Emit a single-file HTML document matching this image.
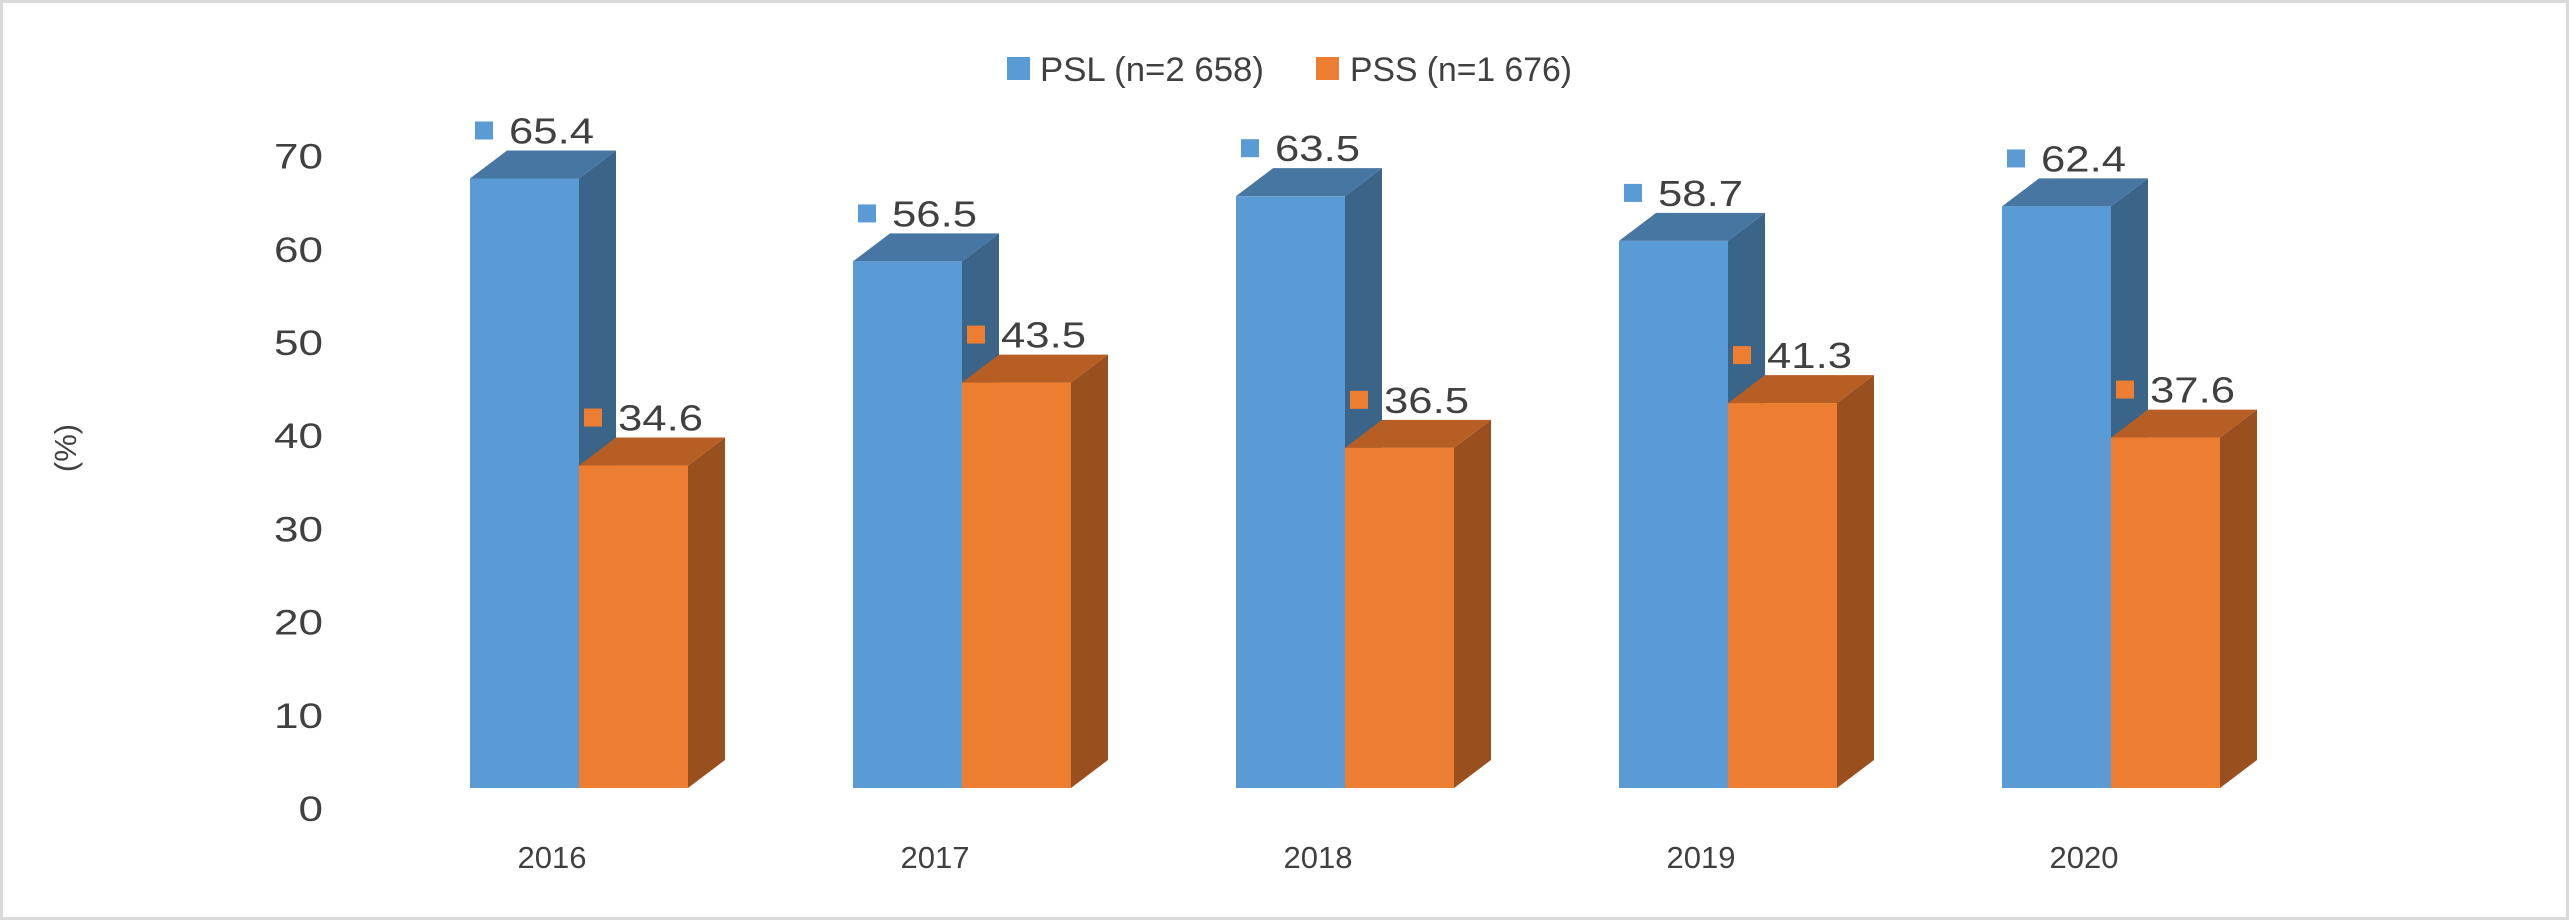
<!DOCTYPE html>
<html><head><meta charset="utf-8"><style>
html,body{margin:0;padding:0;background:#fff}
svg{display:block}
text{font-family:"Liberation Sans",sans-serif;fill:#404040}
</style></head><body>
<svg id="chart" width="2569" height="920" viewBox="0 0 2569 920">
<rect x="1.5" y="1.5" width="2566" height="917" fill="#fff" stroke="#d9d9d9" stroke-width="3"/>
<g id="legend">
<rect x="1007" y="57" width="23" height="23" fill="#5b9bd5"/>
<text x="1040" y="81" font-size="34" textLength="224" lengthAdjust="spacingAndGlyphs">PSL (n=2 658)</text>
<rect x="1316" y="57" width="23" height="23" fill="#ed7d31"/>
<text x="1350" y="81" font-size="34" textLength="222" lengthAdjust="spacingAndGlyphs">PSS (n=1 676)</text>
</g>
<text transform="translate(76,448) rotate(-90)" text-anchor="middle" font-size="31">(%)</text>
<g id="yticks"></g>
<g id="bars"></g>
</svg>
<script>
const categories = ["2016","2017","2018","2019","2020"];
const pslValues = [65.4,56.5,63.5,58.7,62.4];
const pssValues = [34.6,43.5,36.5,41.3,37.6];
const tickValues = [0,10,20,30,40,50,60,70];

const NS="http://www.w3.org/2000/svg";
const base=788, unit=9.32, x0=470, step=383, bw=109, dx=37, dy=28;
const yScale=v=>base-v*unit;
const xGroup=i=>x0+i*step;
function mk(tag,attrs,parent){const e=document.createElementNS(NS,tag);for(const k in attrs)e.setAttribute(k,attrs[k]);parent.appendChild(e);return e;}

const yt=document.getElementById('yticks');
tickValues.forEach(v=>{
  const s=String(v);
  const t=mk('text',{x:323,y:yScale(v)+21+12,'text-anchor':'end','font-size':35,textLength:s.length*24.5,lengthAdjust:'spacingAndGlyphs'},yt);
  
  
  t.textContent=s;
});

const g=document.getElementById('bars');
const series=[
 {vals:pslValues,front:'#5b9bd5',top:'#4876a3',side:'#3a6588',off:0,name:'psl'},
 {vals:pssValues,front:'#ed7d31',top:'#b65e23',side:'#9a4f1f',off:bw,name:'pss'}
];
categories.forEach((c,i)=>{
  series.forEach(s=>{
    const xa=xGroup(i)+s.off, xb=xa+bw, top=yScale(s.vals[i]);
    const side=mk('polygon',{points:`${xb},${top} ${xb+dx},${top-dy} ${xb+dx},${base-dy} ${xb},${base}`,fill:s.side},g);
    
    
    const tp=mk('polygon',{points:`${xa},${top} ${xa+dx},${top-dy} ${xb+dx},${top-dy} ${xb},${top}`,fill:s.top},g);
    
    
    const fr=mk('rect',{x:xa,y:top,width:bw,height:base-top,fill:s.front},g);
    
    
  });
});
categories.forEach((c,i)=>{
  series.forEach(s=>{
    const xa=xGroup(i)+s.off, top=yScale(s.vals[i]);
    const cy=top-dy-20;
    const m=mk('rect',{x:xa+5,y:cy-9,width:18,height:18,fill:s.front},g);
    
    
    const t=mk('text',{x:xa+39,y:cy+13,'font-size':36,textLength:85,lengthAdjust:'spacingAndGlyphs'},g);
    
    
    t.textContent=s.vals[i].toFixed(1);
  });
  const lt=mk('text',{x:xGroup(i)+82,y:868,'text-anchor':'middle','font-size':31},g);
  
  
  lt.textContent=c;
});
</script>
</body></html>
